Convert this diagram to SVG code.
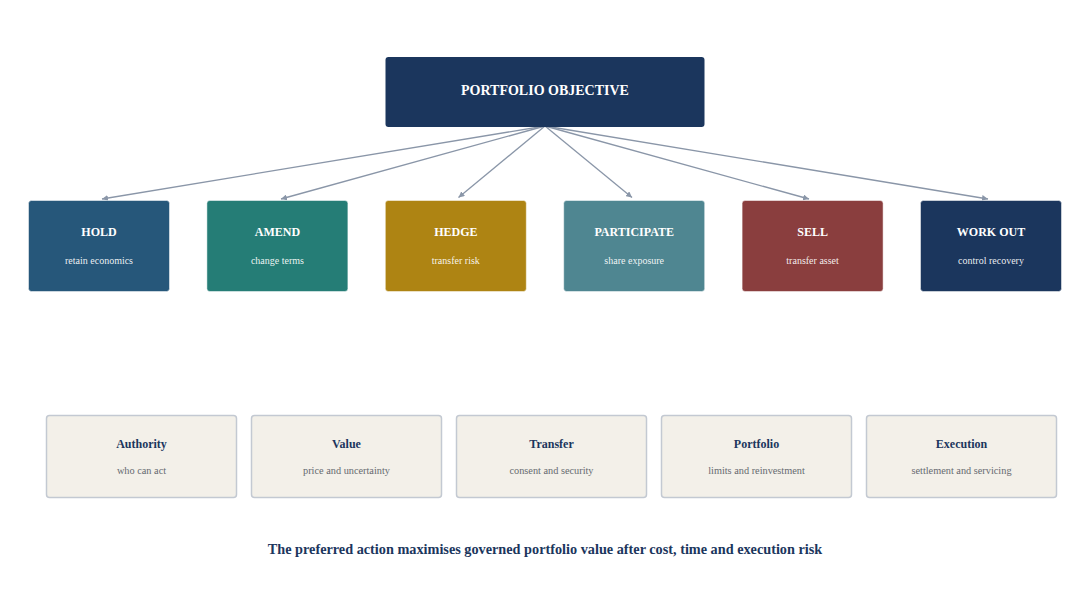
<svg xmlns="http://www.w3.org/2000/svg" width="1089" height="610" viewBox="0 0 1089 610">
<style>
.bg{fill:#ffffff}
.node{stroke:#ffffff;stroke-opacity:0.5;stroke-width:1}
.ttl{font-family:"Liberation Serif","Times New Roman",serif;font-weight:bold;fill:#ffffff;text-anchor:middle}
.sub{font-family:"Liberation Serif","Times New Roman",serif;fill:#ffffff;fill-opacity:0.92;text-anchor:middle;font-size:10px}
.card{fill:#f3f0e9;stroke:#c3c9d2;stroke-width:1.5}
.ctl{font-family:"Liberation Serif","Times New Roman",serif;font-weight:bold;fill:#1b365d;text-anchor:middle;font-size:12px}
.csub{font-family:"Liberation Serif","Times New Roman",serif;fill:#666a70;text-anchor:middle;font-size:10.3px}
.conn{stroke:#8a96a8;stroke-width:1.3;fill:none;marker-end:url(#ah)}
.foot{font-family:"Liberation Serif","Times New Roman",serif;font-weight:bold;fill:#1b365d;text-anchor:middle;font-size:14.25px}
</style>
<defs>
<marker id="ah" viewBox="0 0 10 10" refX="10" refY="5" markerWidth="6" markerHeight="6" markerUnits="userSpaceOnUse" orient="auto">
<path d="M0,0 L10,5 L0,10 z" fill="#8a96a8"/>
</marker>
</defs>
<rect class="bg" x="0" y="0" width="1089" height="610"/>
<g id="connectors">
<line class="conn" x1="545" y1="126" x2="102" y2="199"/>
<line class="conn" x1="545" y1="126" x2="281" y2="199"/>
<line class="conn" x1="545" y1="126" x2="458.5" y2="197.5"/>
<line class="conn" x1="545" y1="126" x2="632" y2="197.5"/>
<line class="conn" x1="545" y1="126" x2="809" y2="199"/>
<line class="conn" x1="545" y1="126" x2="988" y2="199"/>
</g>
<g id="objective">
<rect x="385.5" y="57" width="319" height="70" rx="3" fill="#1b365d"/>
<text class="ttl" x="545" y="95" font-size="14">PORTFOLIO OBJECTIVE</text>
</g>
<g id="hold">
<rect class="node" x="28.5" y="200.5" width="141" height="91" rx="3" fill="#26577a"/>
<text class="ttl" x="99" y="236" font-size="12">HOLD</text>
<text class="sub" x="99" y="264">retain economics</text>
</g>
<g id="amend">
<rect class="node" x="206.9" y="200.5" width="141" height="91" rx="3" fill="#257d76"/>
<text class="ttl" x="277.4" y="236" font-size="12">AMEND</text>
<text class="sub" x="277.4" y="264">change terms</text>
</g>
<g id="hedge">
<rect class="node" x="385.3" y="200.5" width="141" height="91" rx="3" fill="#ae8413"/>
<text class="ttl" x="455.8" y="236" font-size="12">HEDGE</text>
<text class="sub" x="455.8" y="264">transfer risk</text>
</g>
<g id="participate">
<rect class="node" x="563.7" y="200.5" width="141" height="91" rx="3" fill="#4f8691"/>
<text class="ttl" x="634.2" y="236" font-size="12">PARTICIPATE</text>
<text class="sub" x="634.2" y="264">share exposure</text>
</g>
<g id="sell">
<rect class="node" x="742.1" y="200.5" width="141" height="91" rx="3" fill="#8a3e3e"/>
<text class="ttl" x="812.6" y="236" font-size="12">SELL</text>
<text class="sub" x="812.6" y="264">transfer asset</text>
</g>
<g id="workout">
<rect class="node" x="920.5" y="200.5" width="141" height="91" rx="3" fill="#1b365d"/>
<text class="ttl" x="991" y="236" font-size="12">WORK OUT</text>
<text class="sub" x="991" y="264">control recovery</text>
</g>
<g id="authority">
<rect class="card" x="46.5" y="415.5" width="190" height="82" rx="3"/>
<text class="ctl" x="141.5" y="448">Authority</text>
<text class="csub" x="141.5" y="474">who can act</text>
</g>
<g id="value">
<rect class="card" x="251.5" y="415.5" width="190" height="82" rx="3"/>
<text class="ctl" x="346.5" y="448">Value</text>
<text class="csub" x="346.5" y="474">price and uncertainty</text>
</g>
<g id="transfer">
<rect class="card" x="456.5" y="415.5" width="190" height="82" rx="3"/>
<text class="ctl" x="551.5" y="448">Transfer</text>
<text class="csub" x="551.5" y="474">consent and security</text>
</g>
<g id="portfolio">
<rect class="card" x="661.5" y="415.5" width="190" height="82" rx="3"/>
<text class="ctl" x="756.5" y="448">Portfolio</text>
<text class="csub" x="756.5" y="474">limits and reinvestment</text>
</g>
<g id="execution">
<rect class="card" x="866.5" y="415.5" width="190" height="82" rx="3"/>
<text class="ctl" x="961.5" y="448">Execution</text>
<text class="csub" x="961.5" y="474">settlement and servicing</text>
</g>
<text class="foot" x="545" y="554">The preferred action maximises governed portfolio value after cost, time and execution risk</text>
</svg>
